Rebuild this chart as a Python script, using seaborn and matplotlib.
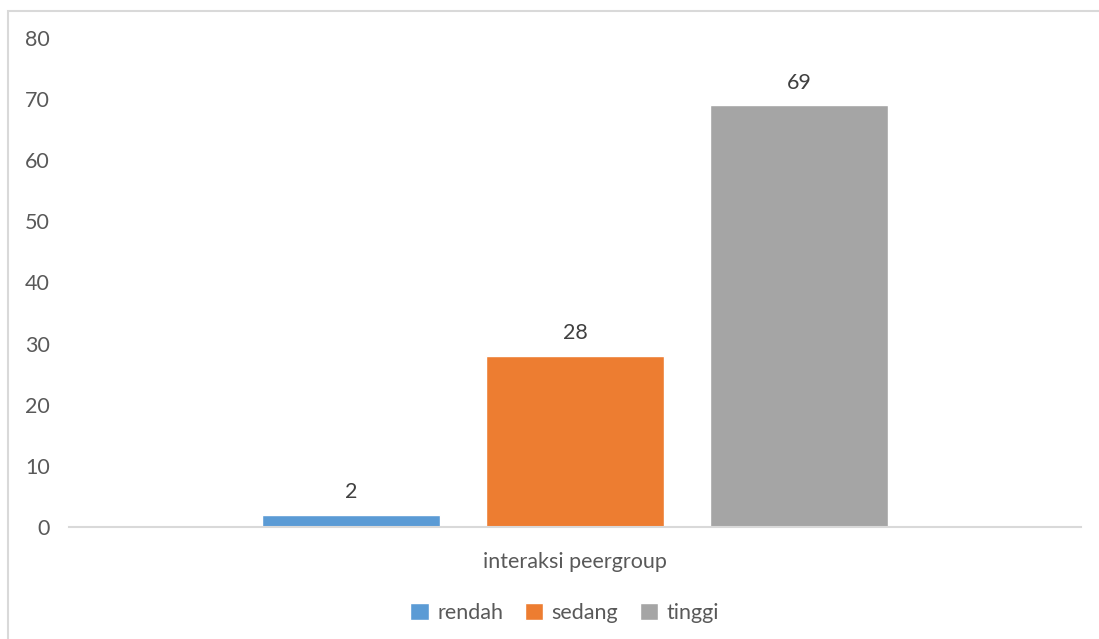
import matplotlib
matplotlib.use("Agg")
import matplotlib.pyplot as plt
import seaborn as sns
import pandas as pd
from matplotlib.patches import Rectangle

categories = ["interaksi peergroup"]
levels = ["rendah", "sedang", "tinggi"]
values = [2, 28, 69]
colors = ["#5B9BD5", "#ED7D31", "#A5A5A5"]
yticks = [0, 10, 20, 30, 40, 50, 60, 70, 80]

df = pd.DataFrame({
    "kategori": categories * len(levels),
    "level": levels,
    "nilai": values,
})

sns.set_theme(style="white")
plt.rcParams["font.family"] = ["Lato", "DejaVu Sans"]

fs = 15.5
fig = plt.figure(figsize=(10.99, 6.39), dpi=100)
ax = fig.add_axes([69 / 1099, 1 - 527 / 639, (1081 - 69) / 1099, (527 - 38) / 639])

sns.barplot(data=df, x="kategori", y="nilai", hue="level", hue_order=levels,
            palette=colors, width=0.664, gap=0.205, ax=ax, legend=True,
            saturation=1)

ax.set_xlim(-0.5, 0.5)
ax.set_ylim(0, 80)
ax.set_yticks(yticks)
ax.set_yticklabels([str(t) for t in yticks], fontsize=fs, color="#595959")
ax.tick_params(axis="y", length=0, pad=14)
ax.tick_params(axis="x", length=0, pad=18, labelsize=fs, labelcolor="#595959")
ax.set_xlabel("")
ax.set_ylabel("")
for s in ["left", "right", "top"]:
    ax.spines[s].set_visible(False)
ax.spines["bottom"].set_color("#D9D9D9")
ax.spines["bottom"].set_linewidth(1.5)
ax.grid(False)

for cont in ax.containers:
    ax.bar_label(cont, fontsize=fs, color="#404040", padding=9)

handles, labels = ax.get_legend_handles_labels()
ax.legend(handles, labels, loc="center", bbox_to_anchor=(0.49, -0.175),
          ncol=3, frameon=False, fontsize=fs, labelcolor="#595959",
          handlelength=0.85, handleheight=0.85, handletextpad=0.4,
          columnspacing=1.0)

fig.patches.append(Rectangle((8 / 1099, -0.1), 1.2, 1.1 - 11 / 639,
                             transform=fig.transFigure, fill=False,
                             edgecolor="#D9D9D9", linewidth=1.5))

fig.savefig("out.png", dpi=100, facecolor="white")
